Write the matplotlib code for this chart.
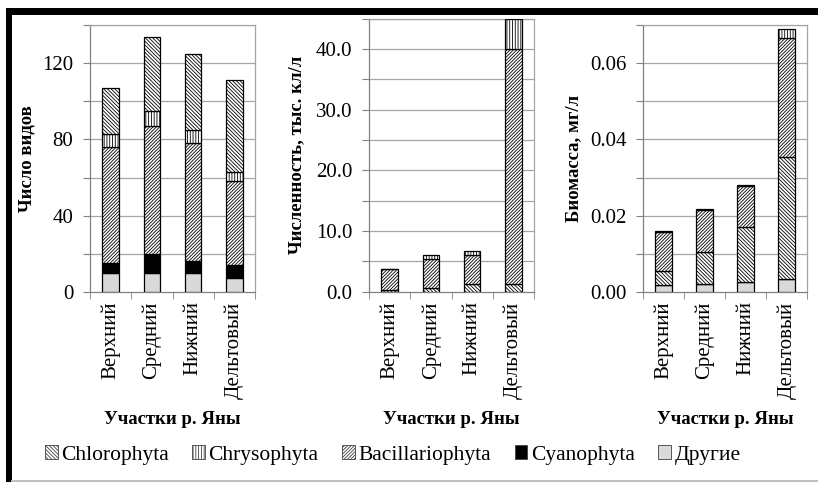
import matplotlib
matplotlib.use("Agg")
import matplotlib.pyplot as plt
from matplotlib.patches import Rectangle, Patch
from matplotlib.lines import Line2D
import numpy as np

plt.rcParams["font.family"] = ["Liberation Serif", "DejaVu Serif"]
plt.rcParams["hatch.linewidth"] = 0.6

sites = ["Верхний", "Средний", "Нижний", "Дельтовый"]

# number of species
sp_other = [10, 10, 10, 7]
sp_cyano = [5, 10, 6, 7]
sp_bac = [61, 67, 62, 44]
sp_chryso = [7, 8, 7, 5]
sp_chloro = [24, 39, 40, 48]

# abundance, thousand cells/l
ab_other = [0.0, 0.0, 0.0, 0.0]
ab_cyano = [0.0, 0.0, 0.0, 0.0]
ab_chloro = [0.3, 0.55, 1.2, 1.3]
ab_bac = [3.4, 4.8, 4.8, 38.7]
ab_chryso = [0.0, 0.7, 0.75, 5.0]

# biomass, mg/l
bm_other = [0.0018, 0.0020, 0.0026, 0.0033]
bm_cyano = [0.0, 0.0, 0.0, 0.0]
bm_chloro = [0.0036, 0.0084, 0.0145, 0.0322]
bm_bac = [0.0104, 0.0111, 0.0107, 0.0311]
bm_chryso = [0.0002, 0.0002, 0.0002, 0.0023]

styles = {
    "Chlorophyta": dict(facecolor="white", hatch="\\" * 9),
    "Chrysophyta": dict(facecolor="white", hatch="|" * 6),
    "Bacillariophyta": dict(facecolor="white", hatch="/" * 10),
    "Cyanophyta": dict(facecolor="black", hatch=None),
    "Другие": dict(facecolor="#d9d9d9", hatch=None),
}

W, H = 818, 482
fig = plt.figure(figsize=(W / 100, H / 100), dpi=100)


def px(x0, y_top, x1, y_bot):
    return [x0 / W, 1 - y_bot / H, (x1 - x0) / W, (y_bot - y_top) / H]


def panel(rect, stacks, ymax, step, label_every, fmt, ylabel, ylab_x):
    ax = fig.add_axes(rect)
    x = np.arange(len(sites))
    bottom = np.zeros(len(sites))
    for name, vals in stacks:
        st = styles[name]
        ax.bar(x, vals, 0.4, bottom=bottom, facecolor=st["facecolor"],
               hatch=st["hatch"], edgecolor="black", linewidth=0.9, zorder=3)
        bottom += np.array(vals)
    ax.set_xlim(-0.5, len(sites) - 0.5)
    ax.set_ylim(0, ymax)
    grid = np.arange(0, ymax + step / 2, step)
    for g in grid[1:]:
        ax.axhline(g, color="#a6a6a6", lw=0.9, zorder=1)
    ax.set_yticks(grid)
    ax.set_yticklabels([fmt.format(g) if i % label_every == 0 else ""
                        for i, g in enumerate(grid)], fontsize=15)
    ax.set_xticks(x)
    ax.set_xticklabels(sites, rotation=90, fontsize=15)
    ax.set_xticks(np.arange(-0.5, len(sites)), minor=True)
    ax.tick_params(axis="x", which="major", length=0, pad=7)
    ax.tick_params(axis="x", which="minor", length=5, color="#808080")
    ax.tick_params(axis="y", length=5, color="#808080", pad=7)
    for s in ax.spines.values():
        s.set_color("#a6a6a6")
        s.set_linewidth(0.9)
    ax.spines["bottom"].set_color("#808080")
    ax.spines["left"].set_color("#808080")
    ax.set_ylabel(ylabel, fontsize=13.5, fontweight="bold")
    ax.yaxis.set_label_coords(ylab_x, 0.5)
    cx = rect[0] + rect[2] / 2
    fig.text(cx, 1 - 419 / H, "Участки р. Яны", ha="center", va="center",
             fontsize=13.5, fontweight="bold")
    return ax


panel(px(90, 25.3, 255, 291.7),
      [("Другие", sp_other), ("Cyanophyta", sp_cyano),
       ("Bacillariophyta", sp_bac), ("Chrysophyta", sp_chryso),
       ("Chlorophyta", sp_chloro)],
      140, 20, 2, "{:.0f}", "Число видов", -0.33)

panel(px(369, 18.5, 534, 291.7),
      [("Другие", ab_other), ("Cyanophyta", ab_cyano),
       ("Chlorophyta", ab_chloro), ("Bacillariophyta", ab_bac),
       ("Chrysophyta", ab_chryso)],
      45, 5, 2, "{:.1f}", "Численность, тыс. кл/л", -0.388)

panel(px(643, 25.3, 807, 291.7),
      [("Другие", bm_other), ("Cyanophyta", bm_cyano),
       ("Chlorophyta", bm_chloro), ("Bacillariophyta", bm_bac),
       ("Chrysophyta", bm_chryso)],
      0.07, 0.01, 2, "{:.2f}", "Биомасса, мг/л", -0.372)

handles = [Patch(facecolor=styles[n]["facecolor"], hatch=styles[n]["hatch"],
                 edgecolor="#404040", linewidth=0.6, label=n)
           for n in ["Chlorophyta", "Chrysophyta", "Bacillariophyta",
                     "Cyanophyta", "Другие"]]
fig.legend(handles=handles, loc="center", bbox_to_anchor=(0.48, 1 - 455 / H),
           ncol=5, frameon=False, fontsize=15.5, handlelength=0.6,
           handleheight=0.6, handletextpad=0.15, columnspacing=1.1)

# frame around the figure
fig.add_artist(Rectangle((6 / W, 0), 6 / W, 1 - 8 / H, transform=fig.transFigure,
                         facecolor="black", edgecolor="none"))
fig.add_artist(Rectangle((6 / W, 1 - 15 / H), 1, 7 / H, transform=fig.transFigure,
                         facecolor="black", edgecolor="none"))
fig.add_artist(Line2D([12 / W, 1], [1.5 / H, 1.5 / H], transform=fig.transFigure,
                      color="#c0c0c0", lw=1.5))

fig.savefig("out.png", dpi=100)
